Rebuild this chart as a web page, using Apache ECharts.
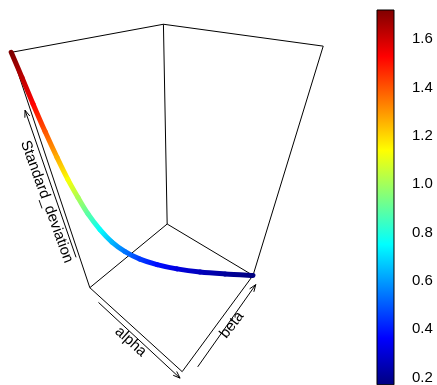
<!DOCTYPE html>
<html>
<head>
<meta charset="utf-8">
<script src="https://cdn.jsdelivr.net/npm/echarts@6/dist/echarts.min.js"></script>
<style>
  html, body { margin: 0; padding: 0; background: #fff; }
  #chart { width: 437px; height: 385px; }
</style>
</head>
<body>
<div id="chart"></div>
<script>
// --- data: trajectory (alpha = beta), coloured by standard deviation ---
const alpha = [1, 1.14, 1.29, 1.50, 1.77, 2.09, 2.48, 2.94, 3.65, 4.51, 5.61, 7.02, 8.77, 10.94, 13.58, 16.55, 20];
const beta  = [1, 1.14, 1.29, 1.50, 1.77, 2.09, 2.48, 2.94, 3.65, 4.51, 5.61, 7.02, 8.77, 10.94, 13.58, 16.55, 20];
const sdValues = [1.72, 1.630, 1.524, 1.398, 1.263, 1.131, 1.011, 0.889, 0.758, 0.642, 0.543, 0.456, 0.384, 0.319, 0.261, 0.215, 0.17];
const colorbarTicks = [0.2, 0.4, 0.6, 0.8, 1.0, 1.2, 1.4, 1.6];

// jet palette (plot3D)
const jetColors = ['#00007F', '#0000FF', '#007FFF', '#00FFFF', '#7FFF7F', '#FFFF00', '#FF7F00', '#FF0000', '#7F0000'];

// --- view / layout constants ---
const W = 437, H = 385;
const THETA = 40 * Math.PI / 180;
const PHI = 40 * Math.PI / 180;
const DIST = 3.7;        // perspective distance
const Z_EXPAND = 1.8;    // box height relative to half width
const SCALE = 76, CX = 173, CY = 201.6;
const FONT = 'Liberation Sans, Arial, sans-serif';

const aMin = Math.min(...alpha), aMax = Math.max(...alpha);
const bMin = Math.min(...beta), bMax = Math.max(...beta);
const zMin = Math.min(...sdValues), zMax = Math.max(...sdValues);

const nx = v => 2 * (v - aMin) / (aMax - aMin) - 1;
const ny = v => 2 * (v - bMin) / (bMax - bMin) - 1;
const nz = v => 2 * (v - zMin) / (zMax - zMin) - 1;

// perspective projection of normalised box coords -> plane units
function project(xn, yn, zn) {
  const ct = Math.cos(THETA), st = Math.sin(THETA);
  const cp = Math.cos(PHI), sp = Math.sin(PHI);
  const z = zn * Z_EXPAND;
  const h = xn * ct + yn * st;
  const e = xn * st - yn * ct;
  const up = z * cp - e * sp;
  const q = e * cp + z * sp;
  const k = DIST / (DIST - q);
  return [h * k, up * k];
}

const jet = v => echarts.color.lerp((v - zMin) / (zMax - zMin), jetColors);

// box: edges between corners (0 = min, 1 = max of each range)
const boxEdges = [
  [[0, 0, 1], [0, 1, 1]],
  [[0, 1, 1], [1, 1, 1]],
  [[0, 1, 0], [0, 1, 1]],
  [[0, 0, 0], [0, 0, 1]],
  [[1, 1, 0], [1, 1, 1]],
  [[0, 1, 0], [0, 0, 0]],
  [[0, 1, 0], [1, 1, 0]],
  [[0, 0, 0], [1, 0, 0]],
  [[1, 0, 0], [1, 1, 0]]
];
const corner = c => project(c[0] * 2 - 1, c[1] * 2 - 1, c[2] * 2 - 1);
const edgeData = boxEdges.map(([c1, c2]) => corner(c1).concat(corner(c2)));

// axis arrows, offset from the box (normalised coords)
const arrowData = [
  project(-0.85, -1, -1.167).concat(project(0.97, -1, -1.167)),
  project(1.1, -0.77, -1.083).concat(project(1.1, 0.97, -1.083)),
  project(-1.13, -1, -0.61).concat(project(-1.13, -1, 0.694))
];

const curvePts = alpha.map((a, i) => project(nx(a), ny(beta[i]), nz(sdValues[i])));

const chart = echarts.init(document.getElementById('chart'), null, { renderer: 'canvas' });

const option = {
  animation: false,
  backgroundColor: '#fff',
  grid: [
    { left: 0, top: 0, width: W, height: H },
    { left: 377, top: 10, width: 17, height: (zMax - zMin) * 244.7 }
  ],
  xAxis: [
    { type: 'value', min: -CX / SCALE, max: (W - CX) / SCALE, show: false },
    { type: 'value', gridIndex: 1, min: 0, max: 1, show: false }
  ],
  yAxis: [
    { type: 'value', min: -(H - CY) / SCALE, max: CY / SCALE, show: false },
    {
      type: 'value', gridIndex: 1, min: zMin, max: zMax, position: 'right',
      axisLine: { show: false },
      splitLine: { show: false },
      axisTick: { show: true, length: 8, customValues: colorbarTicks, lineStyle: { color: '#000', width: 1 } },
      axisLabel: {
        customValues: colorbarTicks, margin: 18, color: '#000', fontSize: 15, fontFamily: FONT,
        formatter: v => v.toFixed(1)
      }
    }
  ],
  series: [
    {
      type: 'custom', name: 'box', silent: true, clip: false,
      data: edgeData,
      renderItem: (params, api) => {
        const p1 = api.coord([api.value(0), api.value(1)]);
        const p2 = api.coord([api.value(2), api.value(3)]);
        return {
          type: 'line',
          shape: { x1: p1[0], y1: p1[1], x2: p2[0], y2: p2[1] },
          style: { stroke: '#000', lineWidth: 1 }
        };
      }
    },
    {
      type: 'custom', name: 'arrows', silent: true, clip: false,
      data: arrowData,
      renderItem: (params, api) => {
        const p1 = api.coord([api.value(0), api.value(1)]);
        const p2 = api.coord([api.value(2), api.value(3)]);
        const dx = p2[0] - p1[0], dy = p2[1] - p1[1];
        const len = Math.sqrt(dx * dx + dy * dy);
        const ux = dx / len, uy = dy / len;
        const hl = 7, hw = 2.6;
        const head = [
          [p2[0] - hl * ux - hw * uy, p2[1] - hl * uy + hw * ux],
          [p2[0], p2[1]],
          [p2[0] - hl * ux + hw * uy, p2[1] - hl * uy - hw * ux]
        ];
        return {
          type: 'group',
          children: [
            { type: 'line', shape: { x1: p1[0], y1: p1[1], x2: p2[0], y2: p2[1] }, style: { stroke: '#000', lineWidth: 1 } },
            { type: 'polyline', shape: { points: head }, style: { stroke: '#000', lineWidth: 1, fill: 'none' } }
          ]
        };
      }
    },
    {
      type: 'custom', name: 'Standard_deviation', silent: true, clip: false,
      data: curvePts.map((p, i) => [p[0], p[1], sdValues[i]]),
      renderItem: (params, api) => {
        const i = params.dataIndex;
        const n = curvePts.length;
        if (i >= n - 1) return;
        const P = j => api.coord(curvePts[Math.max(0, Math.min(n - 1, j))]);
        const p0 = P(i - 1), p1 = P(i), p2 = P(i + 1), p3 = P(i + 2);
        // catmull-rom -> bezier
        const c1 = [p1[0] + (p2[0] - p0[0]) / 6, p1[1] + (p2[1] - p0[1]) / 6];
        const c2 = [p2[0] - (p3[0] - p1[0]) / 6, p2[1] - (p3[1] - p1[1]) / 6];
        return {
          type: 'bezierCurve',
          shape: { x1: p1[0], y1: p1[1], x2: p2[0], y2: p2[1], cpx1: c1[0], cpy1: c1[1], cpx2: c2[0], cpy2: c2[1] },
          style: {
            fill: 'none',
            lineWidth: 5,
            lineCap: 'round',
            stroke: new echarts.graphic.LinearGradient(p1[0], p1[1], p2[0], p2[1], [
              { offset: 0, color: jet(sdValues[i]) },
              { offset: 1, color: jet(sdValues[i + 1]) }
            ], true)
          }
        };
      }
    },
    {
      type: 'custom', name: 'colorbar', silent: true, clip: false,
      xAxisIndex: 1, yAxisIndex: 1,
      data: [[zMin, zMax]],
      renderItem: (params, api) => {
        const top = api.coord([0, api.value(1)]);
        const bottom = api.coord([1, api.value(0)]);
        const stops = jetColors.slice().reverse().map((c, k) => ({ offset: k / (jetColors.length - 1), color: c }));
        return {
          type: 'rect',
          shape: { x: top[0], y: top[1], width: bottom[0] - top[0], height: bottom[1] - top[1] },
          style: { fill: new echarts.graphic.LinearGradient(0, 0, 0, 1, stops), stroke: '#000', lineWidth: 1 }
        };
      }
    }
  ],
  graphic: [
    { type: 'text', x: 130.7, y: 341.7, rotation: -42 * Math.PI / 180,
      style: { text: 'alpha', fontSize: 15, fontFamily: FONT, fill: '#000', align: 'center', verticalAlign: 'middle' } },
    { type: 'text', x: 232, y: 325, rotation: 52 * Math.PI / 180,
      style: { text: 'beta', fontSize: 15, fontFamily: FONT, fill: '#000', align: 'center', verticalAlign: 'middle' } },
    { type: 'text', x: 46.7, y: 201.7, rotation: -70 * Math.PI / 180,
      style: { text: 'Standard_deviation', fontSize: 15, fontFamily: FONT, fill: '#000', align: 'center', verticalAlign: 'middle' } }
  ]
};

chart.setOption(option);
</script>
</body>
</html>
